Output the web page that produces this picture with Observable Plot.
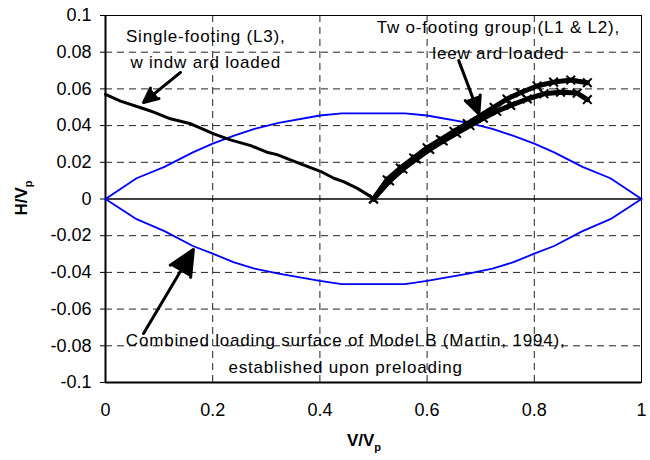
<!DOCTYPE html>
<html>
<head>
<meta charset="utf-8">
<script src="https://cdn.jsdelivr.net/npm/d3@7"></script>
<script src="https://cdn.jsdelivr.net/npm/@observablehq/plot@0.6"></script>
<style>
  html, body { margin: 0; padding: 0; background: #fff; }
  #chart { width: 650px; height: 460px; }
</style>
</head>
<body>
<div id="chart"></div>
<script>
// Combined loading surface (upper and lower halves)
const surfaceX = [0, 0.058, 0.11, 0.163, 0.2, 0.24, 0.278, 0.323, 0.4, 0.441, 0.559, 0.6, 0.677, 0.722, 0.76, 0.8, 0.837, 0.89, 0.942, 1];
const surfaceUpper = [0, 0.0113, 0.0175, 0.0254, 0.0302, 0.0345, 0.0382, 0.0415, 0.0455, 0.0467, 0.0467, 0.0455, 0.0415, 0.0382, 0.0345, 0.0302, 0.0254, 0.0175, 0.0113, 0];
const surfaceLower = [0, -0.0110, -0.0175, -0.0256, -0.0298, -0.0345, -0.0380, -0.0407, -0.0446, -0.0464, -0.0464, -0.0446, -0.0407, -0.0380, -0.0345, -0.0298, -0.0256, -0.0175, -0.0110, 0];

// Single footing (L3), windward loaded
const singleX = [0, 0.028, 0.0715, 0.09, 0.121, 0.159, 0.202, 0.233, 0.271, 0.301, 0.32, 0.364, 0.401, 0.426, 0.444, 0.47, 0.495, 0.5];
const singleY = [0.057, 0.0533, 0.0492, 0.0473, 0.0437, 0.041, 0.0355, 0.0322, 0.0291, 0.0255, 0.0242, 0.0191, 0.0151, 0.0113, 0.0095, 0.0058, 0.0013, -0.0005];

// Two-footing group (L1 & L2), leeward loaded
const groupL1X = [0.5, 0.5255, 0.55, 0.575, 0.6, 0.625, 0.65, 0.675, 0.7, 0.725, 0.749, 0.774, 0.805, 0.836, 0.868, 0.899];
const groupL1Y = [0.0, 0.0105, 0.0169, 0.0224, 0.0279, 0.0324, 0.0369, 0.0411, 0.0455, 0.0500, 0.0545, 0.0579, 0.0616, 0.0637, 0.0648, 0.0634];
const groupL2X = [0.5, 0.53, 0.555, 0.58, 0.605, 0.63, 0.655, 0.68, 0.705, 0.73, 0.756, 0.787, 0.818, 0.849, 0.88, 0.899];
const groupL2Y = [0.0, 0.0098, 0.0163, 0.0218, 0.0270, 0.0316, 0.0358, 0.0400, 0.0440, 0.0478, 0.0510, 0.0545, 0.0573, 0.0582, 0.0577, 0.0542];

// Axis ticks
const xTicks = [0, 0.2, 0.4, 0.6, 0.8, 1];
const yTicks = [-0.1, -0.08, -0.06, -0.04, -0.02, 0, 0.02, 0.04, 0.06, 0.08, 0.1];
const xGrid = [0.2, 0.4, 0.6, 0.8];
const yGrid = [-0.08, -0.06, -0.04, -0.02, 0.02, 0.04, 0.06, 0.08];

// Annotation labels and their arrows
const labelText = ["Single-footing (L3),", "w indw ard loaded", "Tw o-footing group (L1 & L2),", "leew ard loaded", "Combined loading surface of Model B (Martin, 1994),", "established upon preloading"];
const labelX = [0.187, 0.187, 0.733, 0.733, 0.448, 0.448];
const labelY = [0.0885, 0.0745, 0.0935, 0.0795, -0.0771, -0.0918];
const arrowFrom = [[0.14, 0.069], [0.659, 0.0754], [0.071, -0.0733]];
const arrowTo = [[0.071, 0.0526], [0.6966, 0.0464], [0.164, -0.0275]];

const zipXY = (xs, ys) => xs.map((x, i) => ({x, y: ys[i]}));
const upper = zipXY(surfaceX, surfaceUpper);
const lower = zipXY(surfaceX, surfaceLower);
const single = zipXY(singleX, singleY);
const groupL1 = zipXY(groupL1X, groupL1Y);
const groupL2 = zipXY(groupL2X, groupL2Y);
const labels = labelText.map((t, i) => ({text: t, x: labelX[i], y: labelY[i]}));
const arrows = arrowFrom.map((f, i) => ({x1: f[0], y1: f[1], x2: arrowTo[i][0], y2: arrowTo[i][1]}));

const fmt = d => String(+d.toFixed(2));

const svg = Plot.plot({
  width: 650,
  height: 460,
  marginLeft: 105,
  marginRight: 9,
  marginTop: 15,
  marginBottom: 78,
  style: {fontFamily: "'Liberation Sans', Arial, sans-serif", fontSize: "18px", background: "white", color: "black"},
  x: {domain: [0, 1], ticks: xTicks, tickFormat: fmt, tickSize: 0, tickPadding: 21, label: null},
  y: {domain: [-0.1, 0.1], ticks: yTicks, tickFormat: fmt, tickSize: 5, tickPadding: 9, label: null},
  marks: [
    Plot.ruleX(xGrid, {stroke: "#222", strokeWidth: 1, strokeDasharray: "7,5"}),
    Plot.ruleY(yGrid, {stroke: "#222", strokeWidth: 1, strokeDasharray: "7,5"}),
    Plot.ruleY([0], {stroke: "#000", strokeWidth: 1.5}),
    Plot.frame({stroke: "#000", strokeWidth: 1}),
    Plot.ruleX([0], {stroke: "#000", strokeWidth: 2}),
    Plot.ruleY([-0.1], {stroke: "#000", strokeWidth: 2}),
    Plot.line(upper, {x: "x", y: "y", stroke: "#0000ff", strokeWidth: 1.8}),
    Plot.line(lower, {x: "x", y: "y", stroke: "#0000ff", strokeWidth: 1.8}),
    Plot.line(single, {x: "x", y: "y", stroke: "#000", strokeWidth: 3}),
    Plot.line(groupL1, {x: "x", y: "y", stroke: "#000", strokeWidth: 5}),
    Plot.line(groupL2, {x: "x", y: "y", stroke: "#000", strokeWidth: 5}),
    Plot.dot(groupL1, {x: "x", y: "y", symbol: "times", r: 4, stroke: "#000", strokeWidth: 2}),
    Plot.dot(groupL2, {x: "x", y: "y", symbol: "times", r: 4, stroke: "#000", strokeWidth: 2}),
    Plot.arrow(arrows, {x1: "x1", y1: "y1", x2: "x2", y2: "y2", stroke: "#000", fill: "#000", strokeWidth: 3, headLength: 14, headAngle: 50, strokeLinejoin: "miter"}),
    Plot.text(labels, {x: "x", y: "y", text: "text", fontSize: 17, fill: "#000"})
  ]
});

// Slightly wider letter spacing for the annotation labels
d3.select(svg).selectAll("g[aria-label='text'] text").attr("letter-spacing", "0.8px");

// Axis titles with subscripted p
const s = d3.select(svg);
const yTitle = s.append("text")
  .attr("transform", "translate(27,198) rotate(-90)")
  .attr("text-anchor", "middle")
  .attr("font-weight", "bold")
  .attr("font-size", "17px")
  .attr("fill", "#000");
yTitle.append("tspan").text("H/V");
yTitle.append("tspan").attr("font-size", "11px").attr("dy", "5").text("p");

const xTitle = s.append("text")
  .attr("transform", "translate(364,446)")
  .attr("text-anchor", "middle")
  .attr("font-weight", "bold")
  .attr("font-size", "17px")
  .attr("fill", "#000");
xTitle.append("tspan").text("V/V");
xTitle.append("tspan").attr("font-size", "11px").attr("dy", "5").text("p");

document.getElementById("chart").appendChild(svg);
</script>
</body>
</html>
